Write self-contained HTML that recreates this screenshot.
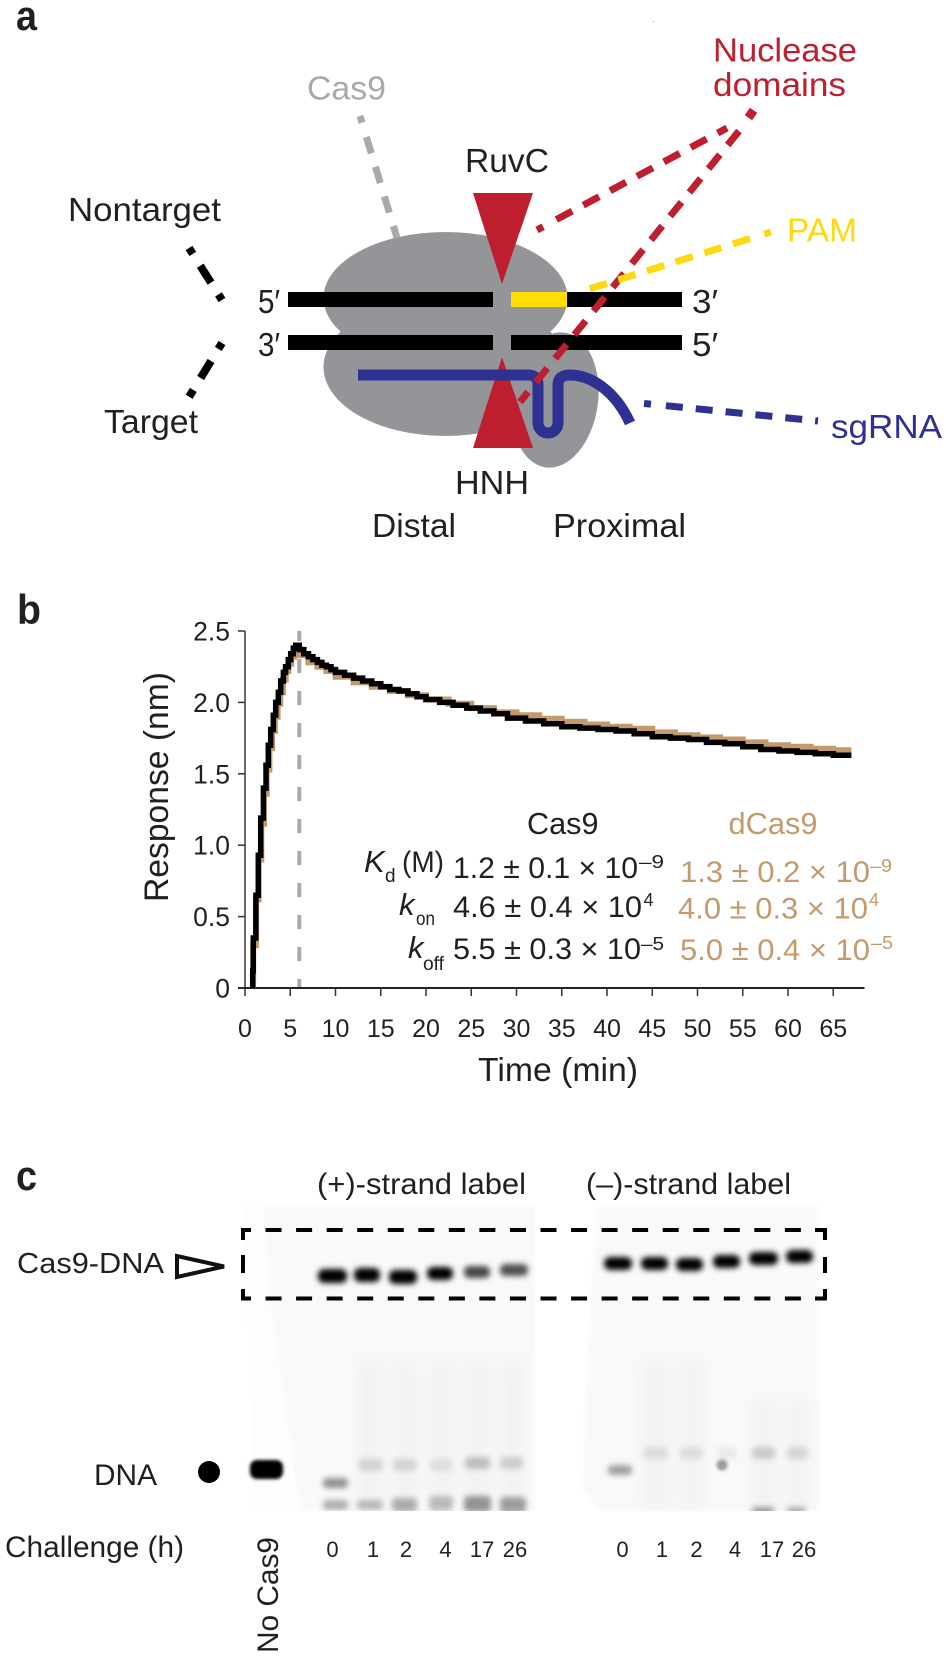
<!DOCTYPE html>
<html lang="en">
<head>
<meta charset="utf-8">
<title>Cas9 DNA binding figure</title>
<style>
html,body{margin:0;padding:0;background:#fff;}
svg{display:block;}
text{font-family:"Liberation Sans",Arial,sans-serif;fill:#231f20;}
.red{fill:#be1e2d;}
.tan{fill:#c49a6c;}
.panel{font-weight:700;font-size:42px;}
.a{font-size:33px;}
.v{font-size:30px;}
.sup{font-size:18px;}
.sub{font-size:19px;}
.ital{font-style:italic;font-size:31px;}
.lane{font-size:22px;}
.ytick{font-size:26.5px;}
.xtick{font-size:25px;}
</style>
</head>
<body>
<svg id="figure" xmlns="http://www.w3.org/2000/svg" width="946" height="1660" viewBox="0 0 946 1660">
<defs>
<filter id="b3" x="-40%" y="-120%" width="180%" height="340%"><feGaussianBlur stdDeviation="2.8"/></filter>
<filter id="b2" x="-30%" y="-80%" width="160%" height="260%"><feGaussianBlur stdDeviation="1.6"/></filter>
<filter id="b6" x="-60%" y="-30%" width="220%" height="160%"><feGaussianBlur stdDeviation="7"/></filter>
<clipPath id="gelclip"><rect x="240" y="1200" width="600" height="311"/></clipPath>
</defs>
<rect x="0" y="0" width="946" height="1660" fill="#fff"/>

<!-- PANEL A -->
<g>
<text class="panel" x="16" y="30" textLength="21" lengthAdjust="spacingAndGlyphs">a</text>
<rect x="653" y="21" width="1" height="1" fill="#aaa"/>
<g fill="#939598">
<ellipse cx="445.5" cy="298" rx="122" ry="66"/>
<ellipse cx="445.5" cy="367" rx="122" ry="69"/>
<ellipse cx="555" cy="400" rx="43" ry="68" transform="rotate(8 555 400)"/>
</g>
<line x1="360" y1="116" x2="397" y2="238" stroke="#a7a9ac" stroke-width="7" stroke-dasharray="7 15 17 14 17 14 17 14 12"/>
<rect x="288" y="292" width="205" height="15" fill="#000"/>
<rect x="511" y="292" width="171" height="15" fill="#000"/>
<rect x="288" y="335" width="205" height="15" fill="#000"/>
<rect x="511" y="335" width="171" height="15" fill="#000"/>
<rect x="511" y="292" width="56" height="15" fill="#ffdd00"/>
<polygon points="473,193 533,193 502,284" fill="#be1e2d"/>
<polygon points="502,357 533,448 473,448" fill="#be1e2d"/>
<path d="M358,375 H528 Q538,375 538,385 V423 A10,10 0 0 0 558,423 V385 Q558,375 570,375 C590,375 615,390 630,423" fill="none" stroke="#2e3192" stroke-width="11"/>
<line x1="537" y1="230" x2="727" y2="128" stroke="#be1e2d" stroke-width="7" stroke-dasharray="7 15 18 12.5 18 12.5 18 12.5 18 12.5 18 12.5 18 12.5 18 12.5"/>
<line x1="739" y1="131" x2="520" y2="402" stroke="#be1e2d" stroke-width="7" stroke-dasharray="18 12.5"/>
<rect x="746.5" y="109.5" width="9" height="9" fill="#be1e2d" transform="rotate(35 751 114)"/>
<line x1="771" y1="232" x2="586" y2="290" stroke="#ffd90f" stroke-width="7" stroke-dasharray="7 15 18 12 18 12 18 12 18 12 18 12 18 12 18 12"/>
<line x1="644" y1="403.5" x2="818" y2="421" stroke="#2e3192" stroke-width="7" stroke-dasharray="7 15 17 13 17 13 17 13 17 13 17 13 17 13 17 13"/>
<line x1="189" y1="248" x2="222" y2="300" stroke="#000" stroke-width="8" stroke-dasharray="7 14 20 14 7"/>
<line x1="222" y1="343" x2="189" y2="397" stroke="#000" stroke-width="8" stroke-dasharray="7 14 20 14 8"/>

<text class="a red" x="713" y="61.5" textLength="144" lengthAdjust="spacingAndGlyphs">Nuclease</text>
<text class="a red" x="713" y="96" textLength="133" lengthAdjust="spacingAndGlyphs">domains</text>
<text class="a" style="fill:#a7a9ac" x="307" y="99.5" textLength="79" lengthAdjust="spacingAndGlyphs">Cas9</text>
<text class="a" x="465" y="172" textLength="84" lengthAdjust="spacingAndGlyphs">RuvC</text>
<text class="a" x="68" y="221" textLength="153" lengthAdjust="spacingAndGlyphs">Nontarget</text>
<text class="a" style="fill:#ffd90f" x="787" y="241.5" textLength="70" lengthAdjust="spacingAndGlyphs">PAM</text>
<text class="a" x="258" y="313" textLength="22" lengthAdjust="spacingAndGlyphs">5′</text>
<text class="a" x="258" y="356" textLength="22" lengthAdjust="spacingAndGlyphs">3′</text>
<text class="a" x="692" y="313" textLength="26" lengthAdjust="spacingAndGlyphs">3′</text>
<text class="a" x="692" y="356" textLength="26" lengthAdjust="spacingAndGlyphs">5′</text>
<text class="a" x="104" y="433" textLength="94" lengthAdjust="spacingAndGlyphs">Target</text>
<text class="a" style="fill:#2e3192" x="831" y="438" textLength="111" lengthAdjust="spacingAndGlyphs">sgRNA</text>
<text class="a" x="455" y="494" textLength="74" lengthAdjust="spacingAndGlyphs">HNH</text>
<text class="a" x="372" y="537" textLength="84" lengthAdjust="spacingAndGlyphs">Distal</text>
<text class="a" x="553" y="537" textLength="133" lengthAdjust="spacingAndGlyphs">Proximal</text>
</g>

<!-- PANEL B -->
<g id="chart">
<text class="panel" x="17" y="624" textLength="24" lengthAdjust="spacingAndGlyphs">b</text>
<text x="0" y="0" font-size="34" transform="translate(168 902) rotate(-90)" textLength="230" lengthAdjust="spacingAndGlyphs">Response (nm)</text>
<text x="478" y="1081" font-size="33" textLength="160" lengthAdjust="spacingAndGlyphs">Time (min)</text>
</g>
<g>
<text x="527" y="834" font-size="30.5" textLength="71.5" lengthAdjust="spacingAndGlyphs">Cas9</text>
<text class="tan" x="728.5" y="834" font-size="30.5" textLength="89" lengthAdjust="spacingAndGlyphs">dCas9</text>
<text class="ital" x="364" y="872">K</text>
<text class="sub" x="385" y="882">d</text>
<text x="402" y="872" font-size="30" textLength="42" lengthAdjust="spacingAndGlyphs">(M)</text>
<text class="ital" x="399" y="915">k</text>
<text class="sub" x="416" y="925" textLength="19" lengthAdjust="spacingAndGlyphs">on</text>
<text class="ital" x="408" y="958">k</text>
<text class="sub" x="423" y="970" textLength="21" lengthAdjust="spacingAndGlyphs">off</text>

<text class="v" x="453" y="878" textLength="185" lengthAdjust="spacingAndGlyphs">1.2 ± 0.1 × 10</text>
<text class="sup" x="639" y="868" textLength="25" lengthAdjust="spacingAndGlyphs">–9</text>
<text class="v" x="453" y="917" textLength="189" lengthAdjust="spacingAndGlyphs">4.6 ± 0.4 × 10</text>
<text class="sup" x="643.5" y="906">4</text>
<text class="v" x="453" y="959" textLength="188" lengthAdjust="spacingAndGlyphs">5.5 ± 0.3 × 10</text>
<text class="sup" x="641" y="950" textLength="23" lengthAdjust="spacingAndGlyphs">–5</text>

<text class="v tan" x="680" y="882" textLength="190" lengthAdjust="spacingAndGlyphs">1.3 ± 0.2 × 10</text>
<text class="sup tan" x="870" y="872" textLength="22" lengthAdjust="spacingAndGlyphs">–9</text>
<text class="v tan" x="678" y="918.5" textLength="190" lengthAdjust="spacingAndGlyphs">4.0 ± 0.3 × 10</text>
<text class="sup tan" x="869" y="906">4</text>
<text class="v tan" x="680" y="960" textLength="190" lengthAdjust="spacingAndGlyphs">5.0 ± 0.4 × 10</text>
<text class="sup tan" x="871" y="949" textLength="22" lengthAdjust="spacingAndGlyphs">–5</text>
</g>

<!-- PANEL C -->
<g>
<text class="panel" x="16" y="1190" textLength="21" lengthAdjust="spacingAndGlyphs">c</text>
<text x="317" y="1194" font-size="30" textLength="209" lengthAdjust="spacingAndGlyphs">(+)-strand label</text>
<text x="586" y="1194" font-size="30" textLength="205" lengthAdjust="spacingAndGlyphs">(–)-strand label</text>

<g>
<polygon points="243,1207 260,1207 295,1511 255,1511" fill="#fdfdfe" filter="url(#b2)"/>
<polygon points="262,1207 535,1207 535,1511 300,1511 286,1420 270,1300" fill="#f8f9fa" filter="url(#b2)"/>
<polygon points="596,1207 819,1207 819,1511 601,1511 583,1490 585,1400" fill="#f8f9fa" filter="url(#b2)"/>
<g clip-path="url(#gelclip)">
<g fill="#e4e5e7" opacity="0.35" filter="url(#b6)">
<rect x="357" y="1360" width="26" height="145"/><rect x="393" y="1360" width="24" height="145"/><rect x="430" y="1360" width="24" height="145"/><rect x="465" y="1360" width="25" height="145"/><rect x="500" y="1360" width="24" height="145"/>
<rect x="643" y="1360" width="26" height="150"/><rect x="680" y="1360" width="24" height="150"/><rect x="752" y="1400" width="24" height="110"/><rect x="787" y="1400" width="22" height="110"/>
</g>
<g fill="#000" filter="url(#b3)">
<rect x="318" y="1269" width="29" height="14" rx="6"/>
<rect x="354" y="1268" width="26" height="14" rx="6"/>
<rect x="389" y="1270" width="28" height="14" rx="6"/>
<rect x="427" y="1267" width="26" height="13" rx="6"/>
<rect x="464" y="1266" width="26" height="12" rx="5" opacity="0.72"/>
<rect x="500" y="1264" width="28" height="12" rx="5" opacity="0.68"/>
</g>
<g fill="#000" filter="url(#b3)">
<rect x="604" y="1257" width="28" height="13" rx="6"/>
<rect x="641" y="1257" width="27" height="13" rx="6"/>
<rect x="676" y="1258" width="27" height="13" rx="6"/>
<rect x="713" y="1255" width="27" height="13" rx="6"/>
<rect x="749" y="1252" width="29" height="13" rx="6"/>
<rect x="786" y="1250" width="27" height="13" rx="6"/>
</g>
<rect x="250" y="1460" width="33" height="19" rx="7" fill="#000" filter="url(#b2)"/>
<g fill="#000" filter="url(#b3)">
<rect x="323" y="1478" width="25" height="10" rx="4" opacity="0.42"/>
<rect x="323" y="1500" width="25" height="10" rx="4" opacity="0.30"/>
<rect x="358" y="1459" width="25" height="12" rx="4" opacity="0.13"/>
<rect x="357" y="1500" width="26" height="10" rx="4" opacity="0.25"/>
<rect x="393" y="1459" width="24" height="12" rx="4" opacity="0.13"/>
<rect x="392" y="1498" width="25" height="14" rx="4" opacity="0.30"/>
<rect x="430" y="1459" width="22" height="12" rx="4" opacity="0.09"/>
<rect x="429" y="1496" width="24" height="15" rx="4" opacity="0.24"/>
<rect x="465" y="1457" width="25" height="12" rx="4" opacity="0.22"/>
<rect x="464" y="1496" width="27" height="16" rx="4" opacity="0.40"/>
<rect x="500" y="1457" width="23" height="12" rx="4" opacity="0.16"/>
<rect x="500" y="1497" width="26" height="16" rx="4" opacity="0.36"/>
</g>
<g fill="#000" filter="url(#b3)">
<rect x="608" y="1465" width="24" height="10" rx="4" opacity="0.36"/>
<rect x="643" y="1447" width="25" height="12" rx="4" opacity="0.09"/>
<rect x="680" y="1447" width="23" height="12" rx="4" opacity="0.09"/>
<rect x="717" y="1447" width="20" height="12" rx="4" opacity="0.06"/>
<rect x="752" y="1447" width="23" height="12" rx="4" opacity="0.17"/>
<rect x="752" y="1507" width="22" height="8" rx="3" opacity="0.38"/>
<rect x="787" y="1447" width="21" height="12" rx="4" opacity="0.12"/>
<rect x="787" y="1507" width="19" height="8" rx="3" opacity="0.30"/>
</g>
<circle cx="722" cy="1465" r="5.5" fill="#999" filter="url(#b2)"/>
</g>
</g>

<g fill="none" stroke="#000" stroke-width="4">
<line x1="243" y1="1230" x2="825" y2="1230" stroke-dasharray="16 14.55" stroke-dashoffset="8"/>
<line x1="243" y1="1298.5" x2="825" y2="1298.5" stroke-dasharray="16 14.55" stroke-dashoffset="8"/>
<path d="M243,1240 V1230 H251"/>
<path d="M243,1289 V1298.5 H251"/>
<path d="M825,1240 V1230 H815"/>
<path d="M825,1289 V1298.5 H815"/>
<line x1="243" y1="1255" x2="243" y2="1273"/>
<line x1="825" y1="1257" x2="825" y2="1273"/>
</g>

<text x="17" y="1273" font-size="29" textLength="147" lengthAdjust="spacingAndGlyphs">Cas9-DNA</text>
<polygon points="177,1256 177,1277 224,1266.5" fill="#fff" stroke="#111" stroke-width="4"/>
<text x="94" y="1485" font-size="30" textLength="63" lengthAdjust="spacingAndGlyphs">DNA</text>
<ellipse cx="209" cy="1472" rx="11" ry="11" fill="#000"/>
<text x="5" y="1557" font-size="30" textLength="179" lengthAdjust="spacingAndGlyphs">Challenge (h)</text>
<text x="0" y="0" font-size="30" transform="translate(278 1653) rotate(-90)" textLength="116" lengthAdjust="spacingAndGlyphs">No Cas9</text>
<g class="lane" text-anchor="middle">
<text class="lane" x="332.5" y="1557">0</text>
<text class="lane" x="373" y="1557">1</text>
<text class="lane" x="406" y="1557">2</text>
<text class="lane" x="445.5" y="1557">4</text>
<text class="lane" x="482" y="1557">17</text>
<text class="lane" x="515" y="1557">26</text>
<text class="lane" x="622.5" y="1557">0</text>
<text class="lane" x="662" y="1557">1</text>
<text class="lane" x="696.5" y="1557">2</text>
<text class="lane" x="735" y="1557">4</text>
<text class="lane" x="772" y="1557">17</text>
<text class="lane" x="804" y="1557">26</text>
</g>
</g>

<script>
var xTickValues = [0,5,10,15,20,25,30,35,40,45,50,55,60,65];
var yTickValues = [0,0.5,1.0,1.5,2.0,2.5];
var yTickLabels = ["0","0.5","1.0","1.5","2.0","2.5"];
var washTime = [6];
var cas9Times = [0.85,0.92,1.2,1.47,1.73,2.03,2.32,2.58,2.84,3.13,3.39,3.68,3.94,4.24,4.49,4.79,5.05,5.34,5.6,5.9,6,6.5,7,7.5,8,8.5,9,9.5,10,11,12,13,14,15,16,17,18,19,20,21.5,23,24.5,26,27.5,29,31,33,35,37,39,41,43,45,47,49,51,53,55,57,59,61,63,65,67];
var cas9Values = [0,0.12,0.35,0.65,0.93,1.19,1.40,1.56,1.70,1.81,1.91,2.00,2.07,2.15,2.21,2.25,2.30,2.34,2.38,2.40,2.40,2.37,2.34,2.32,2.30,2.28,2.26,2.25,2.23,2.21,2.19,2.17,2.15,2.13,2.11,2.09,2.08,2.06,2.04,2.02,2.00,1.98,1.96,1.94,1.92,1.89,1.87,1.85,1.83,1.82,1.81,1.80,1.78,1.76,1.75,1.74,1.72,1.71,1.69,1.67,1.66,1.65,1.64,1.63];
var dcas9Times = [0.9,1.2,1.5,1.8,2.1,2.4,2.7,3.0,3.3,3.6,3.9,4.2,4.5,4.8,5.1,5.4,5.7,6,7,8,9,10,12,14,16,18,20,22.5,25,27.5,30,32.5,35,37.5,40,42.5,45,47.5,50,52.5,55,57.5,60,62.5,65,67];
var dcas9Values = [0,0.30,0.62,0.90,1.15,1.36,1.53,1.68,1.80,1.90,1.99,2.07,2.16,2.22,2.27,2.32,2.36,2.38,2.33,2.28,2.25,2.22,2.18,2.14,2.11,2.08,2.05,2.02,1.99,1.96,1.93,1.91,1.885,1.865,1.845,1.83,1.815,1.79,1.77,1.755,1.74,1.72,1.70,1.69,1.675,1.665];

var svgNS = "http://www.w3.org/2000/svg";
var chartGroup = document.getElementById("chart");

function xScale(t){ return 245 + t * 9.05; }
function yScale(v){ return 988 - v * 142.8; }

function makeLine(x1,y1,x2,y2,color,width){
  var l = document.createElementNS(svgNS,"line");
  l.setAttribute("x1",x1); l.setAttribute("y1",y1);
  l.setAttribute("x2",x2); l.setAttribute("y2",y2);
  l.setAttribute("stroke",color); l.setAttribute("stroke-width",width);
  chartGroup.appendChild(l);
  return l;
}

function stepPath(times, values){
  var d = "M" + xScale(times[0]).toFixed(1) + " " + yScale(values[0]).toFixed(1);
  for (var i = 1; i < times.length; i++){
    d += " V" + yScale(values[i]).toFixed(1) + " H" + xScale(times[i]).toFixed(1);
  }
  return d;
}

var washLine = makeLine(xScale(washTime[0]), yScale(2.5), xScale(washTime[0]), yScale(0), "#a7a9ac", 4);
washLine.setAttribute("stroke-dasharray","14 18");
washLine.setAttribute("stroke-dashoffset","4");



var yAxisLine = makeLine(245, yScale(2.5), 245, yScale(0), "#444", 1.6);



var xAxisLine = makeLine(238, yScale(0), 864.5, yScale(0), "#222", 2);



yTickValues.forEach(function(v,i){
  var tick = makeLine(238, yScale(v), 245, yScale(v), "#333", 1.5);
  
  
  var label = document.createElementNS(svgNS,"text");
  label.setAttribute("x",230);
  label.setAttribute("y",yScale(v)+9.5);
  label.setAttribute("text-anchor","end");
  label.setAttribute("class","ytick");
  
  
  label.textContent = yTickLabels[i];
  chartGroup.appendChild(label);
});

xTickValues.forEach(function(t){
  var tick = makeLine(xScale(t), yScale(0), xScale(t), yScale(0)+8, "#333", 1.5);
  
  
  var label = document.createElementNS(svgNS,"text");
  label.setAttribute("x",xScale(t));
  label.setAttribute("y",1037);
  label.setAttribute("text-anchor","middle");
  label.setAttribute("class","xtick");
  
  
  label.textContent = String(t);
  chartGroup.appendChild(label);
});

var dcas9Path = document.createElementNS(svgNS,"path");
dcas9Path.setAttribute("d",stepPath(dcas9Times,dcas9Values));
dcas9Path.setAttribute("fill","none");
dcas9Path.setAttribute("stroke","#c49a6c");
dcas9Path.setAttribute("stroke-width","6");


chartGroup.appendChild(dcas9Path);

var cas9Path = document.createElementNS(svgNS,"path");
cas9Path.setAttribute("d",stepPath(cas9Times,cas9Values));
cas9Path.setAttribute("fill","none");
cas9Path.setAttribute("stroke","#000");
cas9Path.setAttribute("stroke-width","5.5");


chartGroup.appendChild(cas9Path);
</script>
</svg>
</body>
</html>
